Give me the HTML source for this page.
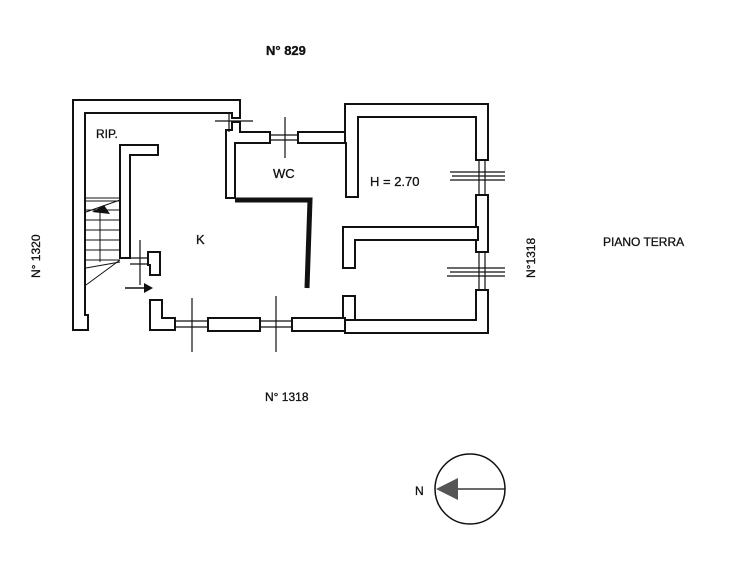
<!DOCTYPE html>
<html><head><style>
html,body{margin:0;padding:0;background:#fff;}
svg{display:block}
text{font-family:"Liberation Sans",sans-serif;fill:#111;stroke:#111;stroke-width:0.3}
</style></head><body>
<svg width="744" height="577" viewBox="0 0 744 577" xmlns="http://www.w3.org/2000/svg">
<g fill="#fff" stroke="#111" stroke-width="2">
<path d="M73,330 L73,100 L240,100 L240,118 L232,118 L232,113 L85,113 L85,315 L88,315 L88,330 Z"/>
<path d="M232,122 L240,122 L240,132 L270,132 L270,143 L235,143 L235,198 L226,198 L226,130 L232,130 Z"/>
<path d="M298,132 L345,132 L345,143 L298,143 Z"/>
<path d="M345,104 L488,104 L488,160 L476,160 L476,117 L358,117 L358,197 L346,197 L346,143 L345,143 Z"/>
<path d="M476,195 L488,195 L488,252 L476,252 Z"/>
<path d="M476,290 L488,290 L488,333 L345,333 L345,320 L476,320 Z"/>
<path d="M343,227 L478,227 L478,240 L355,240 L355,268 L343,268 Z"/>
<path d="M343,296 L355,296 L355,320 L343,320 Z"/>
<path d="M150,300 L162,300 L162,318 L175,318 L175,330 L150,330 Z"/>
<path d="M208,318 L260,318 L260,331 L208,331 Z"/>
<path d="M292,318 L345,318 L345,331 L292,331 Z"/>
<path d="M120,145 L158,145 L158,155 L130,155 L130,258 L120,258 Z"/>
<path d="M148,252 L160,252 L160,275 L150,275 L150,265 L148,265 Z"/>
</g>
<g stroke="#111" stroke-width="1.2" fill="none">
<path d="M175,321 L208,321 M175,327 L208,327 M260,321 L292,321 M260,327 L292,327"/>
<path d="M270,135 L298,135 M270,140 L298,140"/>
<path d="M479,160 L479,195 M485,160 L485,195 M479,252 L479,290 M485,252 L485,290"/>
<path d="M192,298 L192,352 M276,296 L276,352 M285,117 L285,158"/>
<path d="M450,172 L505,172 M452,176 L505,176 M450,180 L505,180"/>
<path d="M447,268 L505,268 M450,272 L505,272 M447,276 L505,276"/>
<path d="M215,121 L253,121 M229,113 L229,132"/>
<path d="M140,240 L140,285 M130,258 L148,258 M130,264 L148,264"/>
</g>
<path d="M235,200 L310,200 L307,288" stroke="#111" stroke-width="5" fill="none"/>
<g stroke="#111" stroke-width="1" fill="none">
<path d="M86,198 L120,198 M86,201 L120,201"/>
<path d="M86,210 L120,210 M86,220 L120,220 M86,230 L120,230 M86,240 L120,240 M86,250 L120,250 M86,260 L120,260 M86,268 L120,262"/>
<path d="M100,210 L100,262 M86,285 L120,260 M86,212 L120,200"/>
</g>
<path d="M92,212 L104,205 L110,214 Z" fill="#111"/>
<path d="M125,288 L146,288" stroke="#111" stroke-width="1.5"/>
<path d="M144,283 L153,288 L144,293 Z" fill="#111"/>
<text x="266" y="55" font-size="13" font-weight="bold">N° 829</text>
<text x="96" y="138" font-size="12">RIP.</text>
<text x="273" y="178" font-size="13">WC</text>
<text x="370" y="186" font-size="13">H = 2.70</text>
<text x="196" y="244" font-size="13">K</text>
<text x="603" y="246" font-size="12">PIANO TERRA</text>
<text x="265" y="401" font-size="12">N° 1318</text>
<text transform="translate(40,278) rotate(-90)" font-size="12">N° 1320</text>
<text transform="translate(535,278) rotate(-90)" font-size="12">N°1318</text>
<circle cx="470" cy="489" r="35" fill="none" stroke="#111" stroke-width="1.5"/>
<path d="M455,489 L505,489" stroke="#111" stroke-width="1.2"/>
<path d="M436,489 L458,478 L458,500 Z" fill="#555"/>
<text x="415" y="495" font-size="12">N</text>
</svg>
</body></html>
